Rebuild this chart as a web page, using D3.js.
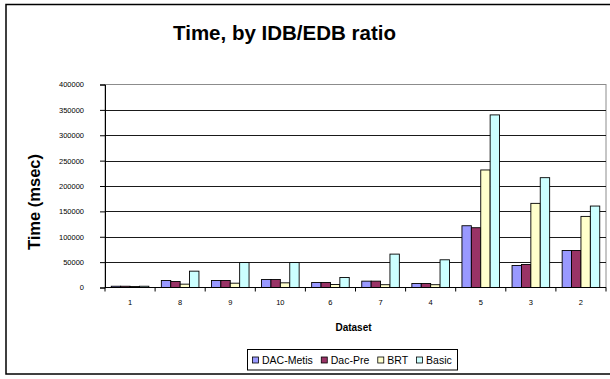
<!DOCTYPE html>
<html lang="en">
<head>
  <meta charset="UTF-8" />
  <title>Time, by IDB/EDB ratio</title>
  <script src="https://d3js.org/d3.v7.min.js"></script>
  <style>
    body { margin: 0; background: #fff; }
    svg { display: block; font-family: Arial, "Liberation Sans", sans-serif; }
  </style>
</head>
<body>
  <div id="chart"></div>
  <script>
    // ---------- DATA ----------
    const datasets = ["1", "8", "9", "10", "6", "7", "4", "5", "3", "2"];
    const seriesNames = ["DAC-Metis", "Dac-Pre", "BRT", "Basic"];
    const dacMetis = [2500, 13800, 13800, 15800, 9900, 12500, 7900, 121700, 43400, 73000];
    const dacPre   = [2500, 11800, 13800, 15800, 9900, 12500, 7900, 117800, 45400, 73000];
    const brt      = [2000, 6600, 8500, 9200, 5900, 5500, 5500, 231600, 165800, 140100];
    const basic    = [2500, 32200, 49300, 49300, 19700, 65800, 54600, 340100, 216400, 160500];
    const yTicks = [0, 50000, 100000, 150000, 200000, 250000, 300000, 350000, 400000];
    const colors = ["#9999ff", "#993366", "#ffffcc", "#ccffff"];

    const values = [dacMetis, dacPre, brt, basic];
    const rows = datasets.map((d, i) => ({
      name: d,
      vals: seriesNames.map((s, j) => ({ series: s, value: values[j][i], color: colors[j] }))
    }));

    // ---------- LAYOUT ----------
    const width = 610, height = 379;
    const plot = { left: 105, right: 606, top: 84.5, bottom: 287.5 };

    const svg = d3.select("#chart").append("svg")
      .attr("width", width).attr("height", height);

    // outer frame (right edge falls outside the picture)
    svg.append("rect")
      .attr("x", 6).attr("y", 4.5)
      .attr("width", 620).attr("height", 369.5)
      .attr("fill", "#fff").attr("stroke", "#000").attr("stroke-width", 1.5);

    const x = d3.scaleBand().domain(datasets).range([plot.left, plot.right]);
    const xInner = d3.scaleBand().domain(seriesNames)
      .range([0, x.bandwidth()]).paddingInner(0).paddingOuter(0.665);
    const y = d3.scaleLinear().domain([0, 400000]).range([plot.bottom, plot.top]);

    // plot border (top/right grey)
    svg.append("rect")
      .attr("x", plot.left).attr("y", plot.top)
      .attr("width", plot.right - plot.left).attr("height", plot.bottom - plot.top)
      .attr("fill", "none").attr("stroke", "#8c8c8c").attr("stroke-width", 1);

    // gridlines
    svg.append("g").selectAll("line")
      .data(yTicks.filter(t => t > 0 && t < 400000))
      .join("line")
      .attr("x1", plot.left).attr("x2", plot.right)
      .attr("y1", d => Math.round(y(d)) + 0.5).attr("y2", d => Math.round(y(d)) + 0.5)
      .attr("stroke", "#1a1a1a").attr("stroke-width", 1);

    // bars
    svg.append("g").selectAll("g")
      .data(rows)
      .join("g")
      .attr("transform", d => `translate(${x(d.name)},0)`)
      .selectAll("rect")
      .data(d => d.vals)
      .join("rect")
      .attr("x", d => xInner(d.series))
      .attr("y", d => y(d.value))
      .attr("width", xInner.bandwidth())
      .attr("height", d => y(0) - y(d.value))
      .attr("fill", d => d.color)
      .attr("stroke", "#000").attr("stroke-width", 0.9);

    // y axis
    const yAxis = svg.append("g")
      .attr("transform", `translate(${plot.left},0)`)
      .call(d3.axisLeft(y).tickValues(yTicks).tickSize(5).tickPadding(16).tickFormat(d3.format("d")));
    yAxis.select(".domain").attr("stroke", "#000");
    yAxis.selectAll(".tick line").attr("stroke", "#000");
    yAxis.selectAll("text").attr("font-size", 7.5).attr("fill", "#000")
      .attr("font-family", "Arial, 'Liberation Sans', sans-serif");

    // x axis: ticks at category boundaries
    const xAxisG = svg.append("g").attr("transform", `translate(0,${plot.bottom})`);
    xAxisG.append("line")
      .attr("x1", plot.left).attr("x2", plot.right)
      .attr("stroke", "#000");
    const bounds = datasets.map(d => x(d)).concat([plot.right]);
    xAxisG.selectAll(".bt").data(bounds).join("line")
      .attr("class", "bt")
      .attr("x1", d => d).attr("x2", d => d)
      .attr("y1", 0).attr("y2", 4)
      .attr("stroke", "#000");
    xAxisG.selectAll("text").data(datasets).join("text")
      .attr("x", d => x(d) + x.bandwidth() / 2)
      .attr("y", 17.5)
      .attr("text-anchor", "middle")
      .attr("font-size", 7.5)
      .text(d => d);

    // titles
    svg.append("text")
      .attr("x", 284.5).attr("y", 40)
      .attr("text-anchor", "middle")
      .attr("font-size", 20.5).attr("font-weight", "bold")
      .text("Time, by IDB/EDB ratio");

    svg.append("text")
      .attr("transform", "translate(39.5,202) rotate(-90)")
      .attr("text-anchor", "middle")
      .attr("font-size", 16.5).attr("font-weight", "bold")
      .text("Time (msec)");

    svg.append("text")
      .attr("x", (plot.left + plot.right) / 2 - 2).attr("y", 330.5)
      .attr("text-anchor", "middle")
      .attr("font-size", 10).attr("font-weight", "bold")
      .text("Dataset");

    // legend
    const legend = svg.append("g");
    legend.append("rect")
      .attr("x", 247.5).attr("y", 349.5)
      .attr("width", 210).attr("height", 20.5)
      .attr("fill", "#fff").attr("stroke", "#000").attr("stroke-width", 1);
    let lx = 252;
    seriesNames.forEach((s, i) => {
      legend.append("rect")
        .attr("x", lx + 0.5).attr("y", 357)
        .attr("width", 6).attr("height", 6)
        .attr("fill", colors[i]).attr("stroke", "#000").attr("stroke-width", 0.8);
      const t = legend.append("text")
        .attr("x", lx + 10).attr("y", 363.5)
        .attr("font-size", 10.5)
        .text(s);
      lx += 10 + t.node().getComputedTextLength() + 8;
    });
  </script>
</body>
</html>
